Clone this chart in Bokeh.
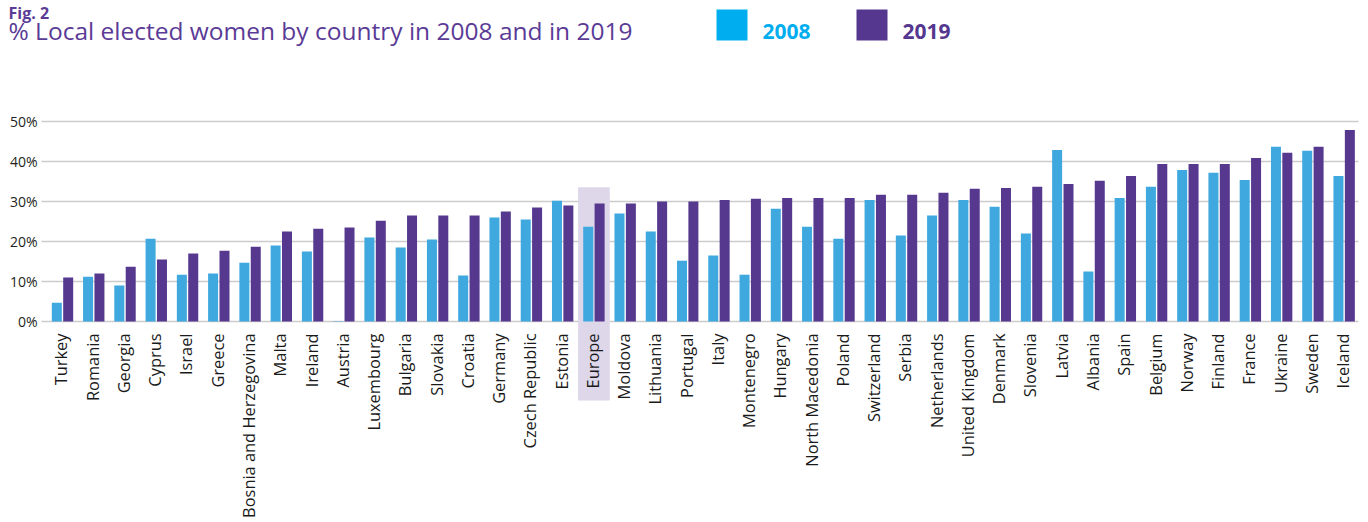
import math
from bokeh.plotting import figure
from bokeh.models import ColumnDataSource, Range1d, FixedTicker, PrintfTickFormatter
from bokeh.transform import dodge
from bokeh.core.properties import value
from bokeh.embed import file_html
from bokeh.resources import INLINE

# ---------------- data ----------------
countries = ["Turkey", "Romania", "Georgia", "Cyprus", "Israel", "Greece",
             "Bosnia and Herzegovina", "Malta", "Ireland", "Austria", "Luxembourg",
             "Bulgaria", "Slovakia", "Croatia", "Germany", "Czech Republic", "Estonia",
             "Europe", "Moldova", "Lithuania", "Portugal", "Italy", "Montenegro",
             "Hungary", "North Macedonia", "Poland", "Switzerland", "Serbia",
             "Netherlands", "United Kingdom", "Denmark", "Slovenia", "Latvia",
             "Albania", "Spain", "Belgium", "Norway", "Finland", "France", "Ukraine",
             "Sweden", "Iceland"]
women_2008 = [4.7, 11.2, 9.0, 20.7, 11.7, 12.0, 14.7, 19.0, 17.5, 0.1, 21.0,
              18.5, 20.5, 11.5, 26.0, 25.5, 30.2, 23.7, 27.0, 22.5, 15.2, 16.5, 11.7,
              28.2, 23.7, 20.7, 30.4, 21.5, 26.5, 30.4, 28.7, 22.0, 42.9,
              12.5, 30.9, 33.7, 37.9, 37.2, 35.4, 43.7, 42.7, 36.4]
women_2019 = [11.0, 12.0, 13.7, 15.5, 17.0, 17.7, 18.7, 22.5, 23.2, 23.5, 25.2,
              26.5, 26.5, 26.5, 27.5, 28.5, 29.0, 29.5, 29.5, 30.0, 30.0, 30.4, 30.7,
              30.9, 30.9, 30.9, 31.7, 31.7, 32.2, 33.2, 33.4, 33.7, 34.4,
              35.2, 36.4, 39.4, 39.4, 39.4, 40.9, 42.2, 43.7, 47.9]
y_ticks = [0, 10, 20, 30, 40, 50]
series_labels = ["2008", "2019"]
highlight_country = "Europe"
fig_label = "Fig. 2"
title_text = "% Local elected women by country in 2008 and in 2019"

# ---------------- styles / layout ----------------
C08_BAR, C19_BAR = "#3ea8df", "#56398f"
C08_KEY, C19_KEY = "#00aeef", "#55378f"
TITLE_C = "#5a3b96"
FONT = "Open Sans"

W, H = 1366, 520
PX_PER_CAT = 31.26      # horizontal pixels per category
PX_PER_PCT = 4.0        # vertical pixels per percentage point
X0_PX, Y0_PX = 62, 321  # pixel position of first category / 0 %
GRID_L, GRID_R = 41, 1358

x_range = Range1d(-X0_PX / PX_PER_CAT, (W - X0_PX) / PX_PER_CAT)
y_range = Range1d(-(H - Y0_PX) / PX_PER_PCT, Y0_PX / PX_PER_PCT)


def dx(px):
    return x_range.start + px / PX_PER_CAT


def dy(py):
    return y_range.end - py / PX_PER_PCT


src = ColumnDataSource(dict(idx=list(range(len(countries))), country=countries,
                            v08=women_2008, v19=women_2019))

p = figure(width=W, height=H, x_range=x_range, y_range=y_range,
           output_backend="svg", toolbar_location=None, x_axis_location=None,
           min_border_left=0, min_border_right=0, min_border_top=0, min_border_bottom=0)
p.outline_line_color = None
p.background_fill_color = "white"
p.xgrid.visible = False

# horizontal grid limited to the chart area
try:
    p.ygrid.cross_bounds = (dx(GRID_L), dx(GRID_R))
    p.ygrid.ticker = FixedTicker(ticks=y_ticks)
    p.ygrid.grid_line_color = "#cccccc"
    p.ygrid.grid_line_width = 1.5
except Exception:
    p.ygrid.visible = False
    p.segment(x0=dx(GRID_L), x1=dx(GRID_R), y0=y_ticks, y1=y_ticks,
              line_color="#cccccc", line_width=1.5)

ax = p.yaxis[0]
ax.fixed_location = dx(GRID_L)
ax.ticker = FixedTicker(ticks=y_ticks)
ax.formatter = PrintfTickFormatter(format="%d%%")
ax.axis_line_color = None
ax.major_tick_line_color = None
ax.minor_tick_line_color = None
ax.major_tick_in = 0
ax.major_tick_out = 0
ax.major_label_standoff = 4
ax.major_label_text_font = FONT
ax.major_label_text_font_size = "14px"
ax.major_label_text_color = "#231f20"

# highlight behind Europe
hi = countries.index(highlight_country)
p.quad(left=[hi - 0.507], right=[hi + 0.507], top=[dy(186.7)], bottom=[dy(400)],
       fill_color="#ddd7e9", line_color=None)

# bars
p.vbar(x=dodge("idx", -0.182), top="v08", width=0.32, source=src,
       fill_color=C08_BAR, line_color=None)
p.vbar(x=dodge("idx", 0.182), top="v19", width=0.32, source=src,
       fill_color=C19_BAR, line_color=None)

# category labels
p.text(x=dodge("idx", -0.05), y=dy(333), text="country", source=src, angle=math.pi / 2,
       text_align="right", text_baseline="middle", text_font=value(FONT),
       text_font_size="16.4px", text_color="#1a1a1a")

# header: figure number, title, legend keys
p.text(x=[dx(8)], y=[dy(12.8)], text=[fig_label], text_font=value(FONT), text_font_size="16px",
       text_font_style="bold", text_color=TITLE_C, text_baseline="middle", text_align="left")
p.text(x=[dx(8)], y=[dy(29.5)], text=[title_text], text_font=value(FONT), text_font_size="24.5px",
       text_color=TITLE_C, text_baseline="middle", text_align="left")
p.quad(left=[dx(716), dx(856)], right=[dx(747), dx(887)], top=[dy(9), dy(9)],
       bottom=[dy(40), dy(40)], fill_color=[C08_KEY, C19_KEY], line_color=None)
p.text(x=[dx(762), dx(902)], y=[dy(30.5), dy(30.5)], text=series_labels, text_font=value(FONT),
       text_font_size="21px", text_font_style="bold", text_color=[C08_KEY, C19_KEY],
       text_baseline="middle", text_align="left")

open("out.html", "w").write(file_html(p, INLINE))
